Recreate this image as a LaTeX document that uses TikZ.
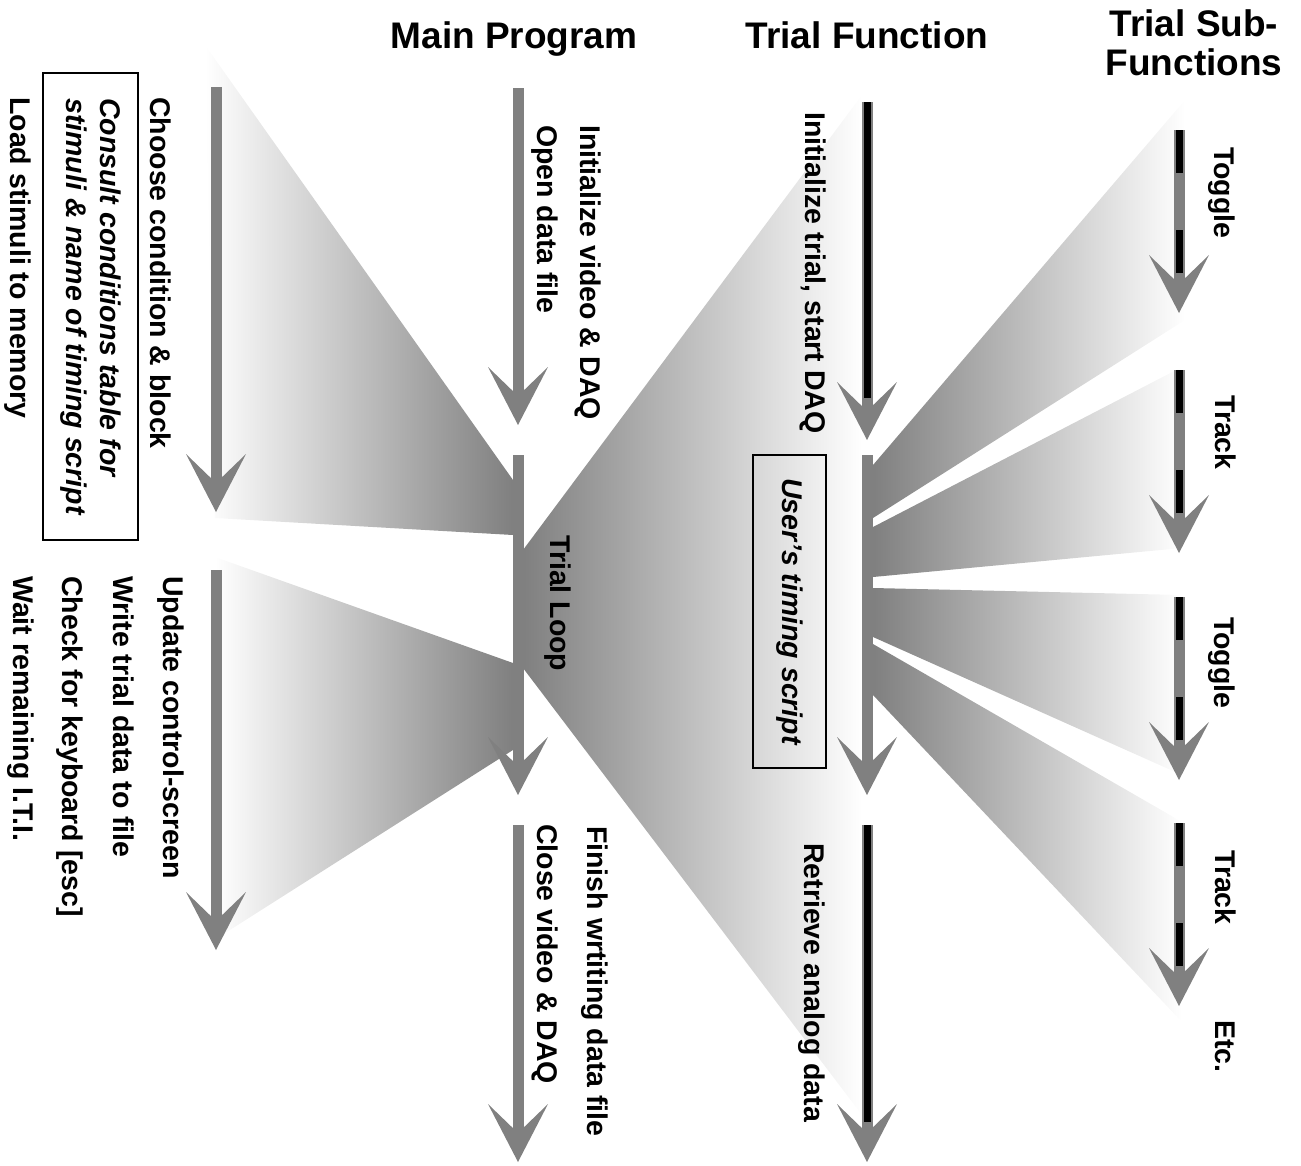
\documentclass[tikz,border=0pt]{standalone}
\usepackage{fontspec}
\setmainfont{Liberation Sans}
\usetikzlibrary{arrows.meta}
\definecolor{flowgray}{gray}{0.5}
\newcommand\txtfont{\fontsize{28.5}{34}\selectfont\bfseries}
\newcommand\headfont{\fontsize{37}{39}\selectfont\bfseries}

\begin{document}
\begin{tikzpicture}
  [x=1pt,y=-1pt,
   flow/.style={draw=flowgray,line width=11pt,-{Stealth[length=58pt,width=60pt,inset=29pt,line width=0pt]}},
   core/.style={draw=black,line width=7pt},
   dashcore/.style={core,dash pattern=on 43pt off 57pt},
   lbl/.style={rotate=-90,anchor=base west,inner sep=0pt,font=\txtfont},
   boxed/.style={draw,line width=2pt,rotate=-90,inner sep=0pt,align=left,font=\txtfont\itshape},
   head/.style={anchor=base,inner sep=0pt,font=\headfont,align=center}]
  \useasboundingbox (0,0) rectangle (1301,1165);

  % fans
  \shade[left color=white,right color=flowgray] (205,45) -- (513,480) -- (513,535) -- (215,518) -- cycle;
  \shade[left color=white,right color=flowgray] (215,557) -- (513,663) -- (513,750) -- (222,935) -- cycle;
  \shade[left color=flowgray,right color=white] (862,95) -- (523,550) -- (523,668) -- (862,1115) -- cycle;
  \shade[left color=flowgray,right color=white] (873,465) -- (1185,100) -- (1185,320) -- (873,518) -- cycle;
  \shade[left color=flowgray,right color=white] (873,527) -- (1182,367) -- (1182,548) -- (873,577) -- cycle;
  \shade[left color=flowgray,right color=white] (873,588) -- (1182,595) -- (1182,775) -- (873,637) -- cycle;
  \shade[left color=flowgray,right color=white] (873,644) -- (1182,822) -- (1182,1022) -- (873,695) -- cycle;

  % arrows
  \foreach \x/\ya/\yb in {216/87/512,216/570/950,518/88/425,518/455/795,518/825/1162,867/102/440,867/455/795,867/825/1162}
    \draw[flow] (\x,\ya) -- (\x,\yb);
  \foreach \ya/\yb in {102/398,825/1122}
    \draw[core] (867,\ya) -- (867,\yb);
  \foreach \ya in {130,370,597,823} {
    \draw[flow] (1179,\ya) -- (1179,\ya+183);
    \draw[dashcore] (1179,\ya) -- (1179,\ya+143);
  }

  % titles
  \node[head] (main) at (514,48) {Main Program};
  \node[head] (trialfn) at (867,48) {Trial Function};
  \node[head,anchor=center] (subfn) at (1194,43) {Trial Sub-\\Functions};

  % left column
  \node[lbl] (choose) at (150,97) {Choose condition \& block};
  \node[boxed,minimum width=467pt,minimum height=95pt] (consult) at (90.5,306.5)
    {Consult conditions table for\\stimuli \& name of timing script};
  \node[lbl] (load) at (10,97) {Load stimuli to memory};
  \node[lbl] (update) at (163,576) {Update control-screen};
  \node[lbl] (write) at (113,576) {Write trial data to file};
  \node[lbl] (check) at (62,576) {Check for keyboard [esc]};
  \node[lbl] (wait) at (13,576) {Wait remaining I.T.I.};

  % main program
  \node[lbl] (initvid) at (580,125) {Initialize video \& DAQ};
  \node[lbl] (opendata) at (537,125) {Open data file};
  \node[lbl] (loop) at (550,535) {Trial Loop};
  \node[lbl] (finish) at (587,826) {Finish wrtiting data file};
  \node[lbl] (closevid) at (537,824) {Close video \& DAQ};

  % trial function
  \node[lbl] (inittrial) at (805,112) {Initialize trial, start DAQ};
  \node[boxed,minimum width=313pt,minimum height=73pt] (script) at (789.5,611.5) {User’s timing script};
  \node[lbl] (retrieve) at (804,843) {Retrieve analog data};

  % sub-functions
  \node[lbl] (toggleA) at (1214,147) {Toggle};
  \node[lbl] (trackA) at (1215,395) {Track};
  \node[lbl] (toggleB) at (1214,617) {Toggle};
  \node[lbl] (trackB) at (1215,850) {Track};
  \node[lbl] (etc) at (1215,1020) {Etc.};

\end{tikzpicture}
\end{document}
